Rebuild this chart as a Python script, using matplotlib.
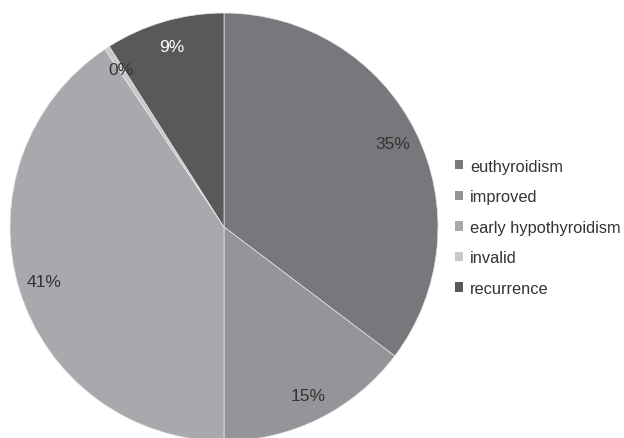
import matplotlib
matplotlib.use("Agg")
import matplotlib.pyplot as plt

# outcome shares (percent), drawn clockwise from 12 o'clock
categories = ["euthyroidism", "improved", "early hypothyroidism", "invalid", "recurrence"]
shares = [35.3, 14.7, 40.6, 0.4, 9.0]
colors = ["#77787b", "#949598", "#a7a9ac", "#c8c9ca", "#58595b"]
label_colors = ["#333333", "#333333", "#333333", "#333333", "#ffffff"]

plt.rcParams['font.family'] = ['Liberation Sans', 'DejaVu Sans']

fig = plt.figure(figsize=(6.24, 4.39), dpi=100)
ax = fig.add_axes([0, 0, 1, 1])

wedges, texts, autotexts = ax.pie(
    shares, colors=colors, startangle=90, counterclock=False,
    center=(224, 439 - 228), radius=214,
    autopct=lambda p: "%.0f%%" % p, pctdistance=0.88,
    wedgeprops=dict(linewidth=0.5, edgecolor="#e6e6e6"),
    textprops=dict(fontsize=12.5))
for t, c in zip(autotexts, label_colors):
    t.set_color(c)

# pie() resets the limits, so set the pixel frame afterwards
ax.set_xlim(0, 624)
ax.set_ylim(0, 439)
ax.set_aspect('equal')
ax.axis('off')

leg = ax.legend(wedges, categories, loc='center left', bbox_to_anchor=(0.719, 0.48),
                borderaxespad=0, frameon=False, fontsize=11.8,
                handlelength=0.5, handleheight=0.5, handletextpad=0.42,
                labelspacing=0.95, labelcolor="#333333")
for h in leg.legend_handles:
    h.set_edgecolor("none")

fig.savefig("out.png", dpi=100)
